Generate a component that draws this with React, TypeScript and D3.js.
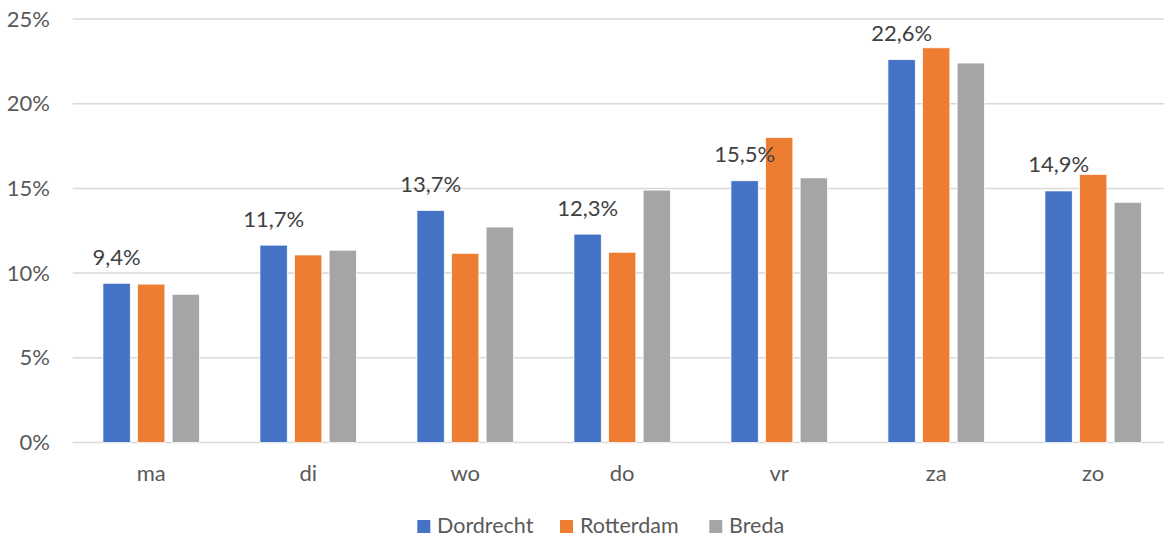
import React from "react";
import * as d3 from "d3";

const categories = ["ma", "di", "wo", "do", "vr", "za", "zo"];
const seriesNames = ["Dordrecht", "Rotterdam", "Breda"];
const dordrecht = [9.4, 11.65, 13.7, 12.3, 15.45, 22.6, 14.85];
const rotterdam = [9.35, 11.07, 11.17, 11.23, 18.0, 23.3, 15.83];
const breda = [8.75, 11.35, 12.72, 14.9, 15.62, 22.4, 14.18];
const dordrechtLabels = ["9,4%", "11,7%", "13,7%", "12,3%", "15,5%", "22,6%", "14,9%"];
const yTicks = [0, 5, 10, 15, 20, 25];
const colors = ["#4472C4", "#ED7D31", "#A5A5A5"];

const W = 1164;
const H = 537;
const FONT = "Lato, 'Open Sans', sans-serif";

export default function App() {
  const seriesValues = [dordrecht, rotterdam, breda];
  const x = d3.scaleBand<string>().domain(categories).range([72.7, 1171.7]).padding(0);
  const groupW = 96.5;
  const xi = d3
    .scaleBand<string>()
    .domain(seriesNames)
    .range([-groupW / 2, groupW / 2])
    .paddingInner(0.21)
    .paddingOuter(0);
  const y = d3.scaleLinear().domain([0, 25]).range([442.5, 19]);

  const legendItems = [
    { name: seriesNames[0], sx: 417.3, tx: 437 },
    { name: seriesNames[1], sx: 560, tx: 580 },
    { name: seriesNames[2], sx: 709.3, tx: 729 },
  ];

  return (
    <svg
      width={W}
      height={H}
      style={{ position: "fixed", left: 0, top: 0, background: "#fff" }}
      fontFamily={FONT}
    >
      <rect x={0} y={0} width={W} height={H} fill="#fff" />
      {yTicks.map((t) => (
        <g key={t}>
          <line x1={72.7} x2={W} y1={y(t)} y2={y(t)} stroke="#d9d9d9" strokeWidth={1.5} />
          <text x={50} y={y(t) + 7.5} textAnchor="end" fontSize={22} fill="#595959">
            {t}%
          </text>
        </g>
      ))}
      {categories.map((c, ci) => {
        const cx = (x(c) as number) + x.bandwidth() / 2;
        return (
          <g key={c}>
            {seriesNames.map((s, si) => {
              const v = seriesValues[si][ci];
              const bx = cx + (xi(s) as number);
              return (
                <rect
                  key={s}
                  x={bx}
                  y={y(v)}
                  width={xi.bandwidth()}
                  height={y(0) - y(v)}
                  fill={colors[si]}
                  stroke="#fff"
                  strokeWidth={0.75}
                />
              );
            })}
            <text
              x={cx + (xi(seriesNames[0]) as number) + xi.bandwidth() / 2}
              y={y(dordrecht[ci]) - 18.5}
              textAnchor="middle"
              fontSize={22}
              fill="#404040"
            >
              {dordrechtLabels[ci]}
            </text>
            <text x={cx} y={481} textAnchor="middle" fontSize={22} fill="#595959">
              {c}
            </text>
          </g>
        );
      })}
      {legendItems.map((l, i) => (
        <g key={l.name}>
          <rect x={l.sx} y={520} width={13} height={13} fill={colors[i]} />
          <text x={l.tx} y={532.5} fontSize={21.5} fill="#595959">
            {l.name}
          </text>
        </g>
      ))}
    </svg>
  );
}
